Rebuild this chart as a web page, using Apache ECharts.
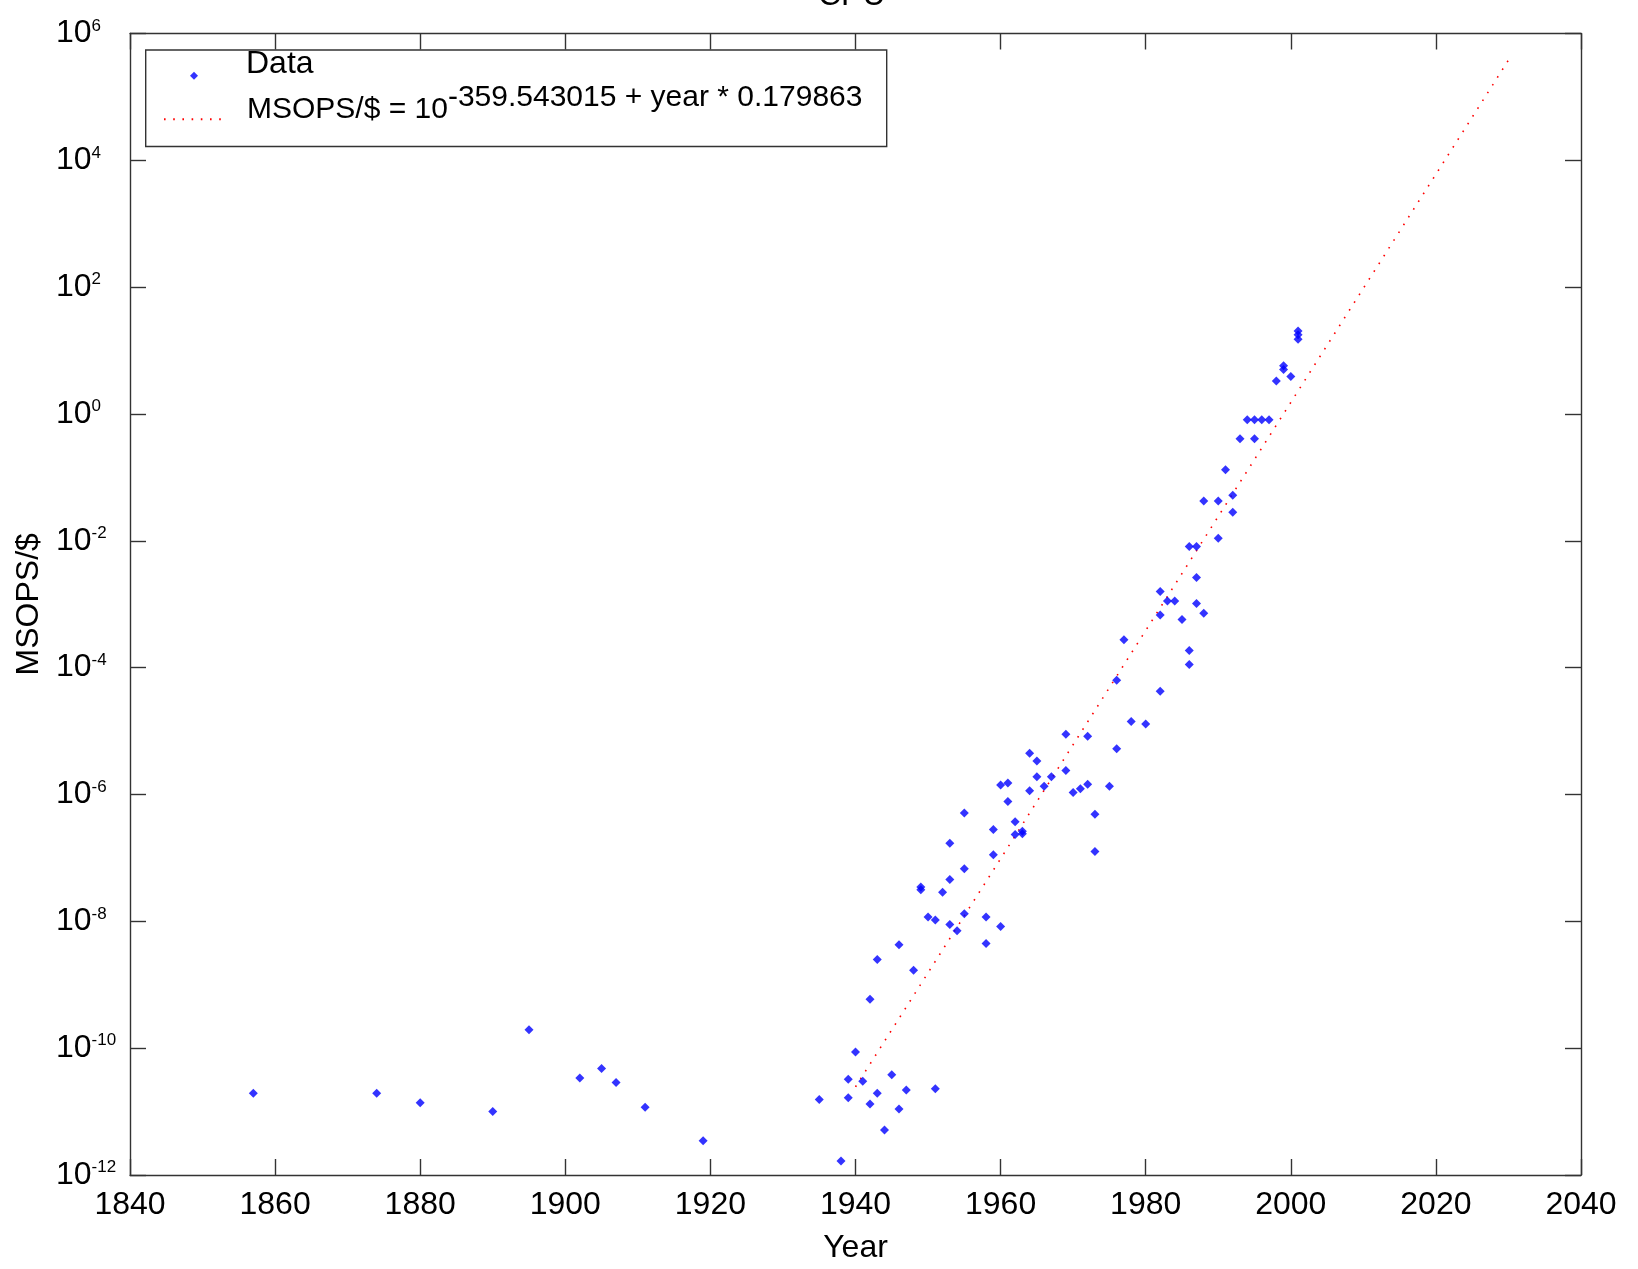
<!DOCTYPE html>
<html>
<head>
<meta charset="utf-8">
<script src="https://cdn.jsdelivr.net/npm/echarts@6/dist/echarts.min.js"></script>
<style>html,body{margin:0;padding:0;background:#fff}#c{width:1638px;height:1269px}</style>
</head>
<body>
<div id="c"></div>
<script>
// ---- data ----
const dataYears = [1857,1874,1880,1890,1895,1902,1905,1907,1911,1919,
  1935,1938,1939,1939,1940,1941,1942,1942,1943,1943,1944,1945,1946,1946,1947,1948,
  1949,1949,1950,1951,1951,1952,1953,1953,1953,1954,1955,1955,1955,1958,1958,1959,1959,
  1960,1960,1961,1961,1962,1962,1963,1963,1964,1964,1965,1965,1966,1967,1969,1969,
  1970,1971,1972,1972,1973,1973,1975,1976,1976,1977,1978,1980,
  1982,1982,1982,1983,1984,1985,1986,1986,1986,1987,1987,1987,1988,1988,
  1990,1990,1991,1992,1992,1993,1994,1995,1995,1996,1997,1998,1999,1999,2000,2001,2001,2001];
const dataLog10Msops = [-10.71,-10.71,-10.86,-11.00,-9.71,-10.47,-10.32,-10.54,-10.93,-11.46,
  -10.81,-11.78,-10.49,-10.78,-10.06,-10.52,-9.23,-10.88,-8.60,-10.71,-11.29,-10.42,-8.37,-10.96,-10.66,-8.77,
  -7.46,-7.50,-7.93,-7.98,-10.64,-7.54,-6.77,-7.34,-8.05,-8.15,-6.29,-7.17,-7.88,-7.93,-8.35,-6.55,-6.95,
  -5.85,-8.08,-5.82,-6.11,-6.43,-6.63,-6.58,-6.62,-5.35,-5.94,-5.47,-5.72,-5.87,-5.72,-5.05,-5.62,
  -5.97,-5.91,-5.08,-5.84,-6.31,-6.90,-5.87,-4.20,-5.28,-3.56,-4.85,-4.89,
  -2.80,-3.17,-4.37,-2.95,-2.95,-3.24,-2.09,-3.73,-3.95,-2.09,-2.58,-2.99,-1.37,-3.14,
  -1.37,-1.96,-0.88,-1.28,-1.55,-0.39,-0.09,-0.09,-0.39,-0.09,-0.09,0.52,0.70,0.76,0.59,1.18,1.25,1.31];
const fitYears = [1940, 2030];
const fitLog10Msops = [-10.61, 5.58];
const fitLabelBase = 'MSOPS/$ = 10';
const fitLabelExp = '-359.543015 + year * 0.179863';
const xTickMin = 1840, xTickMax = 2040, xTickStep = 20;
const yExpMin = -12, yExpMax = 6, yExpStep = 2;

// ---- chart ----
const FONT = '"Liberation Sans", Arial, Helvetica, sans-serif';
const AXC = '#333333';
const chart = echarts.init(document.getElementById('c'), null, {renderer: 'canvas'});

const scatterData = dataYears.map((y, i) => [y, Math.pow(10, dataLog10Msops[i])]);
const fitData = fitYears.map((y, i) => [y, Math.pow(10, fitLog10Msops[i])]);

const axisLineStyle = {show: true, lineStyle: {color: AXC, width: 1.4}};
const tickStyle = {show: true, inside: true, length: 16, lineStyle: {color: AXC, width: 1.4}};

const yLabelFmt = v => '{b|10}{s|' + Math.round(Math.log10(v)) + '}';
const hidden = {opacity: 0};

chart.setOption({
  animation: false,
  backgroundColor: '#ffffff',
  title: {
    text: 'CPU', left: 818, top: -20, padding: 0,
    textStyle: {fontFamily: FONT, fontSize: 32, fontWeight: 'normal', color: '#000'}
  },
  grid: {left: 130, right: 57, top: 33.5, bottom: 91.5, containLabel: false},
  xAxis: [{
    type: 'value', min: xTickMin, max: xTickMax, interval: xTickStep, position: 'bottom',
    axisLine: axisLineStyle, axisTick: tickStyle, splitLine: {show: false},
    axisLabel: {fontFamily: FONT, fontSize: 32, color: '#000', margin: 14, formatter: v => String(v)},
    name: 'Year', nameLocation: 'middle', nameGap: 57,
    nameTextStyle: {fontFamily: FONT, fontSize: 32, color: '#000'}
  }, {
    type: 'value', min: xTickMin, max: xTickMax, interval: xTickStep, position: 'top',
    axisLine: axisLineStyle, axisTick: tickStyle, splitLine: {show: false},
    axisLabel: {show: false}
  }],
  yAxis: [{
    type: 'log', logBase: 10, min: Math.pow(10, yExpMin), max: Math.pow(10, yExpMax), interval: yExpStep,
    position: 'left',
    axisLine: axisLineStyle, axisTick: tickStyle, splitLine: {show: false}, minorTick: {show: false},
    axisLabel: {
      formatter: yLabelFmt, align: 'left', margin: 74,
      rich: {
        b: {fontFamily: FONT, fontSize: 32, lineHeight: 32, color: '#000', padding: [3, 0, 0, 0], verticalAlign: 'bottom'},
        s: {fontFamily: FONT, fontSize: 17, lineHeight: 17, color: '#000', verticalAlign: 'top'}
      }
    },
    name: 'MSOPS/$', nameLocation: 'middle', nameGap: 81, nameRotate: 90,
    nameTextStyle: {fontFamily: FONT, fontSize: 32, color: '#000'}
  }, {
    type: 'log', logBase: 10, min: Math.pow(10, yExpMin), max: Math.pow(10, yExpMax), interval: yExpStep,
    position: 'right',
    axisLine: axisLineStyle, axisTick: tickStyle, splitLine: {show: false},
    axisLabel: {show: false}
  }],
  legend: [
    // icons
    {data: ['Data'], left: 190, top: 71.7, padding: 0, itemWidth: 8, itemHeight: 8,
     selectedMode: false, formatter: () => ''},
    {data: ['fit'], left: 163, top: 115.8, padding: 0, itemWidth: 57, itemHeight: 7,
     selectedMode: false, formatter: () => '', itemStyle: hidden},
    // texts
    {data: ['Data'], left: 240, top: 48, padding: 0, itemWidth: 1, itemHeight: 1,
     selectedMode: false, itemStyle: hidden, lineStyle: hidden,
     formatter: () => '{t|Data}',
     textStyle: {rich: {t: {fontFamily: FONT, fontSize: 32, lineHeight: 32, color: '#000'}}}},
    {data: ['fit'], left: 240, top: 83, padding: 0, itemWidth: 1, itemHeight: 1,
     selectedMode: false, itemStyle: hidden, lineStyle: hidden,
     formatter: () => '{m|' + fitLabelBase + '}{s|' + fitLabelExp + '}',
     textStyle: {rich: {
       m: {fontFamily: FONT, fontSize: 30, lineHeight: 30, color: '#000', padding: [12, 0, 0, 0], verticalAlign: 'bottom'},
       s: {fontFamily: FONT, fontSize: 30, lineHeight: 30, color: '#000', padding: [0, 0, 12, 0], verticalAlign: 'bottom'}
     }}}
  ],
  graphic: [{
    type: 'rect', z: -1, left: 145, top: 49.3,
    shape: {width: 741, height: 96.5},
    style: {fill: '#fff', stroke: AXC, lineWidth: 1.4}
  }],
  series: [{
    name: 'Data', type: 'scatter', xAxisIndex: 0, yAxisIndex: 0,
    data: scatterData, symbol: 'diamond', symbolSize: 9,
    itemStyle: {color: '#0000ff'}, z: 3
  }, {
    name: 'fit', type: 'line', xAxisIndex: 0, yAxisIndex: 0,
    data: fitData, symbol: 'none', showSymbol: false,
    itemStyle: {color: '#ff0000'},
    lineStyle: {color: '#ff0000', width: 1.6, type: [1.6, 7.6]}, z: 2
  }]
});
</script>
</body>
</html>
